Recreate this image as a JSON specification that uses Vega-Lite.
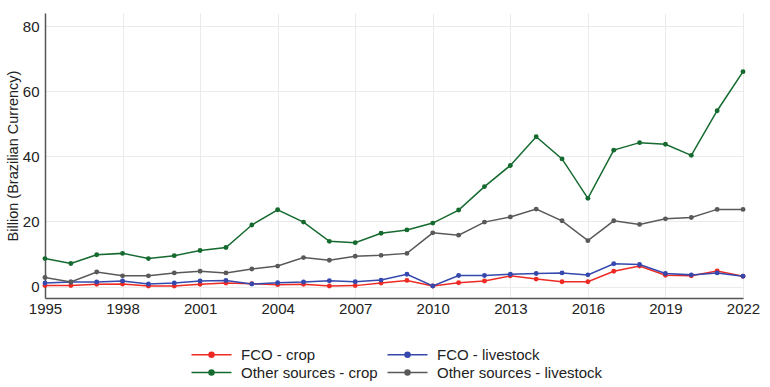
{
  "$schema": "https://vega.github.io/schema/vega-lite/v6.json",
  "width": 698,
  "height": 285,
  "autosize": {"type": "none"},
  "padding": {"left": 45, "top": 13, "right": 27, "bottom": 89},
  "background": "white",
  "config": {
    "font": "Liberation Sans",
    "view": {"stroke": null},
    "axis": {"gridColor": "#ebebeb", "gridWidth": 1, "labelColor": "#222222", "titleColor": "#222222", "domainColor": "#555555", "domainWidth": 1.5}
  },
  "data": {
    "values": [
      {"year": 1995, "series": "FCO - crop", "v": 0.3},
      {"year": 1996, "series": "FCO - crop", "v": 0.3},
      {"year": 1997, "series": "FCO - crop", "v": 0.7},
      {"year": 1998, "series": "FCO - crop", "v": 0.8},
      {"year": 1999, "series": "FCO - crop", "v": 0.2},
      {"year": 2000, "series": "FCO - crop", "v": 0.2},
      {"year": 2001, "series": "FCO - crop", "v": 0.7},
      {"year": 2002, "series": "FCO - crop", "v": 1.1},
      {"year": 2003, "series": "FCO - crop", "v": 0.9},
      {"year": 2004, "series": "FCO - crop", "v": 0.6},
      {"year": 2005, "series": "FCO - crop", "v": 0.7},
      {"year": 2006, "series": "FCO - crop", "v": 0.2},
      {"year": 2007, "series": "FCO - crop", "v": 0.3},
      {"year": 2008, "series": "FCO - crop", "v": 1.1},
      {"year": 2009, "series": "FCO - crop", "v": 1.9},
      {"year": 2010, "series": "FCO - crop", "v": 0.2},
      {"year": 2011, "series": "FCO - crop", "v": 1.2},
      {"year": 2012, "series": "FCO - crop", "v": 1.7},
      {"year": 2013, "series": "FCO - crop", "v": 3.3},
      {"year": 2014, "series": "FCO - crop", "v": 2.3},
      {"year": 2015, "series": "FCO - crop", "v": 1.5},
      {"year": 2016, "series": "FCO - crop", "v": 1.5},
      {"year": 2017, "series": "FCO - crop", "v": 4.7},
      {"year": 2018, "series": "FCO - crop", "v": 6.3},
      {"year": 2019, "series": "FCO - crop", "v": 3.5},
      {"year": 2020, "series": "FCO - crop", "v": 3.3},
      {"year": 2021, "series": "FCO - crop", "v": 4.8},
      {"year": 2022, "series": "FCO - crop", "v": 3.2},
      {"year": 1995, "series": "FCO - livestock", "v": 1.1},
      {"year": 1996, "series": "FCO - livestock", "v": 1.4},
      {"year": 1997, "series": "FCO - livestock", "v": 1.4},
      {"year": 1998, "series": "FCO - livestock", "v": 1.7},
      {"year": 1999, "series": "FCO - livestock", "v": 0.8},
      {"year": 2000, "series": "FCO - livestock", "v": 1.1},
      {"year": 2001, "series": "FCO - livestock", "v": 1.7},
      {"year": 2002, "series": "FCO - livestock", "v": 1.9},
      {"year": 2003, "series": "FCO - livestock", "v": 0.8},
      {"year": 2004, "series": "FCO - livestock", "v": 1.2},
      {"year": 2005, "series": "FCO - livestock", "v": 1.4},
      {"year": 2006, "series": "FCO - livestock", "v": 1.8},
      {"year": 2007, "series": "FCO - livestock", "v": 1.5},
      {"year": 2008, "series": "FCO - livestock", "v": 2.0},
      {"year": 2009, "series": "FCO - livestock", "v": 3.8},
      {"year": 2010, "series": "FCO - livestock", "v": 0.2},
      {"year": 2011, "series": "FCO - livestock", "v": 3.4},
      {"year": 2012, "series": "FCO - livestock", "v": 3.4},
      {"year": 2013, "series": "FCO - livestock", "v": 3.8},
      {"year": 2014, "series": "FCO - livestock", "v": 4.0},
      {"year": 2015, "series": "FCO - livestock", "v": 4.2},
      {"year": 2016, "series": "FCO - livestock", "v": 3.6},
      {"year": 2017, "series": "FCO - livestock", "v": 7.0},
      {"year": 2018, "series": "FCO - livestock", "v": 6.8},
      {"year": 2019, "series": "FCO - livestock", "v": 4.0},
      {"year": 2020, "series": "FCO - livestock", "v": 3.6},
      {"year": 2021, "series": "FCO - livestock", "v": 4.2},
      {"year": 2022, "series": "FCO - livestock", "v": 3.2},
      {"year": 1995, "series": "Other sources - crop", "v": 8.6},
      {"year": 1996, "series": "Other sources - crop", "v": 7.1},
      {"year": 1997, "series": "Other sources - crop", "v": 9.8},
      {"year": 1998, "series": "Other sources - crop", "v": 10.2},
      {"year": 1999, "series": "Other sources - crop", "v": 8.6},
      {"year": 2000, "series": "Other sources - crop", "v": 9.5},
      {"year": 2001, "series": "Other sources - crop", "v": 11.1},
      {"year": 2002, "series": "Other sources - crop", "v": 12.0},
      {"year": 2003, "series": "Other sources - crop", "v": 18.9},
      {"year": 2004, "series": "Other sources - crop", "v": 23.6},
      {"year": 2005, "series": "Other sources - crop", "v": 19.8},
      {"year": 2006, "series": "Other sources - crop", "v": 13.9},
      {"year": 2007, "series": "Other sources - crop", "v": 13.5},
      {"year": 2008, "series": "Other sources - crop", "v": 16.4},
      {"year": 2009, "series": "Other sources - crop", "v": 17.4},
      {"year": 2010, "series": "Other sources - crop", "v": 19.5},
      {"year": 2011, "series": "Other sources - crop", "v": 23.5},
      {"year": 2012, "series": "Other sources - crop", "v": 30.7},
      {"year": 2013, "series": "Other sources - crop", "v": 37.2},
      {"year": 2014, "series": "Other sources - crop", "v": 46.0},
      {"year": 2015, "series": "Other sources - crop", "v": 39.2},
      {"year": 2016, "series": "Other sources - crop", "v": 27.1},
      {"year": 2017, "series": "Other sources - crop", "v": 41.9},
      {"year": 2018, "series": "Other sources - crop", "v": 44.2},
      {"year": 2019, "series": "Other sources - crop", "v": 43.7},
      {"year": 2020, "series": "Other sources - crop", "v": 40.3},
      {"year": 2021, "series": "Other sources - crop", "v": 54.0},
      {"year": 2022, "series": "Other sources - crop", "v": 66.0},
      {"year": 1995, "series": "Other sources - livestock", "v": 2.8},
      {"year": 1996, "series": "Other sources - livestock", "v": 1.4},
      {"year": 1997, "series": "Other sources - livestock", "v": 4.5},
      {"year": 1998, "series": "Other sources - livestock", "v": 3.3},
      {"year": 1999, "series": "Other sources - livestock", "v": 3.3},
      {"year": 2000, "series": "Other sources - livestock", "v": 4.2},
      {"year": 2001, "series": "Other sources - livestock", "v": 4.7},
      {"year": 2002, "series": "Other sources - livestock", "v": 4.2},
      {"year": 2003, "series": "Other sources - livestock", "v": 5.4},
      {"year": 2004, "series": "Other sources - livestock", "v": 6.3},
      {"year": 2005, "series": "Other sources - livestock", "v": 8.9},
      {"year": 2006, "series": "Other sources - livestock", "v": 8.1},
      {"year": 2007, "series": "Other sources - livestock", "v": 9.3},
      {"year": 2008, "series": "Other sources - livestock", "v": 9.6},
      {"year": 2009, "series": "Other sources - livestock", "v": 10.2},
      {"year": 2010, "series": "Other sources - livestock", "v": 16.5},
      {"year": 2011, "series": "Other sources - livestock", "v": 15.8},
      {"year": 2012, "series": "Other sources - livestock", "v": 19.8},
      {"year": 2013, "series": "Other sources - livestock", "v": 21.4},
      {"year": 2014, "series": "Other sources - livestock", "v": 23.8},
      {"year": 2015, "series": "Other sources - livestock", "v": 20.2},
      {"year": 2016, "series": "Other sources - livestock", "v": 14.1},
      {"year": 2017, "series": "Other sources - livestock", "v": 20.2},
      {"year": 2018, "series": "Other sources - livestock", "v": 19.1},
      {"year": 2019, "series": "Other sources - livestock", "v": 20.8},
      {"year": 2020, "series": "Other sources - livestock", "v": 21.2},
      {"year": 2021, "series": "Other sources - livestock", "v": 23.7},
      {"year": 2022, "series": "Other sources - livestock", "v": 23.7}
    ]
  },
  "encoding": {
    "x": {
      "field": "year", "type": "quantitative",
      "scale": {"domain": [1995, 2022], "nice": false, "zero": false},
      "axis": {"title": null, "values": [1995, 1998, 2001, 2004, 2007, 2010, 2013, 2016, 2019, 2022], "format": "d", "labelFontSize": 15, "labelPadding": 3, "ticks": false, "labelFlush": false}
    },
    "y": {
      "field": "v", "type": "quantitative",
      "scale": {"domain": [-3.5, 84], "nice": false, "zero": false},
      "axis": {"title": "Billion (Brazilian Currency)", "values": [0, 20, 40, 60, 80], "labelFontSize": 15, "labelPadding": 6, "ticks": false, "titleFontSize": 14.5, "titleFontWeight": "normal", "titlePadding": 2}
    },
    "color": {
      "field": "series", "type": "nominal",
      "scale": {
        "domain": ["FCO - crop", "FCO - livestock", "Other sources - crop", "Other sources - livestock"],
        "range": ["#ee2a24", "#3448ad", "#156a2f", "#595959"]
      },
      "legend": {
        "title": null, "orient": "none", "legendX": 159, "legendY": 334, "direction": "horizontal", "columns": 2,
        "labelFontSize": 15, "labelColor": "#222222", "labelOffset": 22, "labelLimit": 400, "columnPadding": 6, "rowPadding": 2,
        "symbolType": "M-4,0L4,0M0.5,0A0.5,0.5 0 1,1 -0.5,0A0.5,0.5 0 1,1 0.5,0Z",
        "symbolSize": 100, "symbolStrokeWidth": 1.5,
        "encode": {"symbols": {"update": {"fill": {"scale": "color", "field": "value"}, "stroke": {"scale": "color", "field": "value"}, "opacity": {"value": 1}}}}
      }
    }
  },
  "layer": [
    {"mark": {"type": "line", "strokeWidth": 1.5}},
    {"mark": {"type": "point", "filled": true, "size": 24, "opacity": 1}}
  ]
}
